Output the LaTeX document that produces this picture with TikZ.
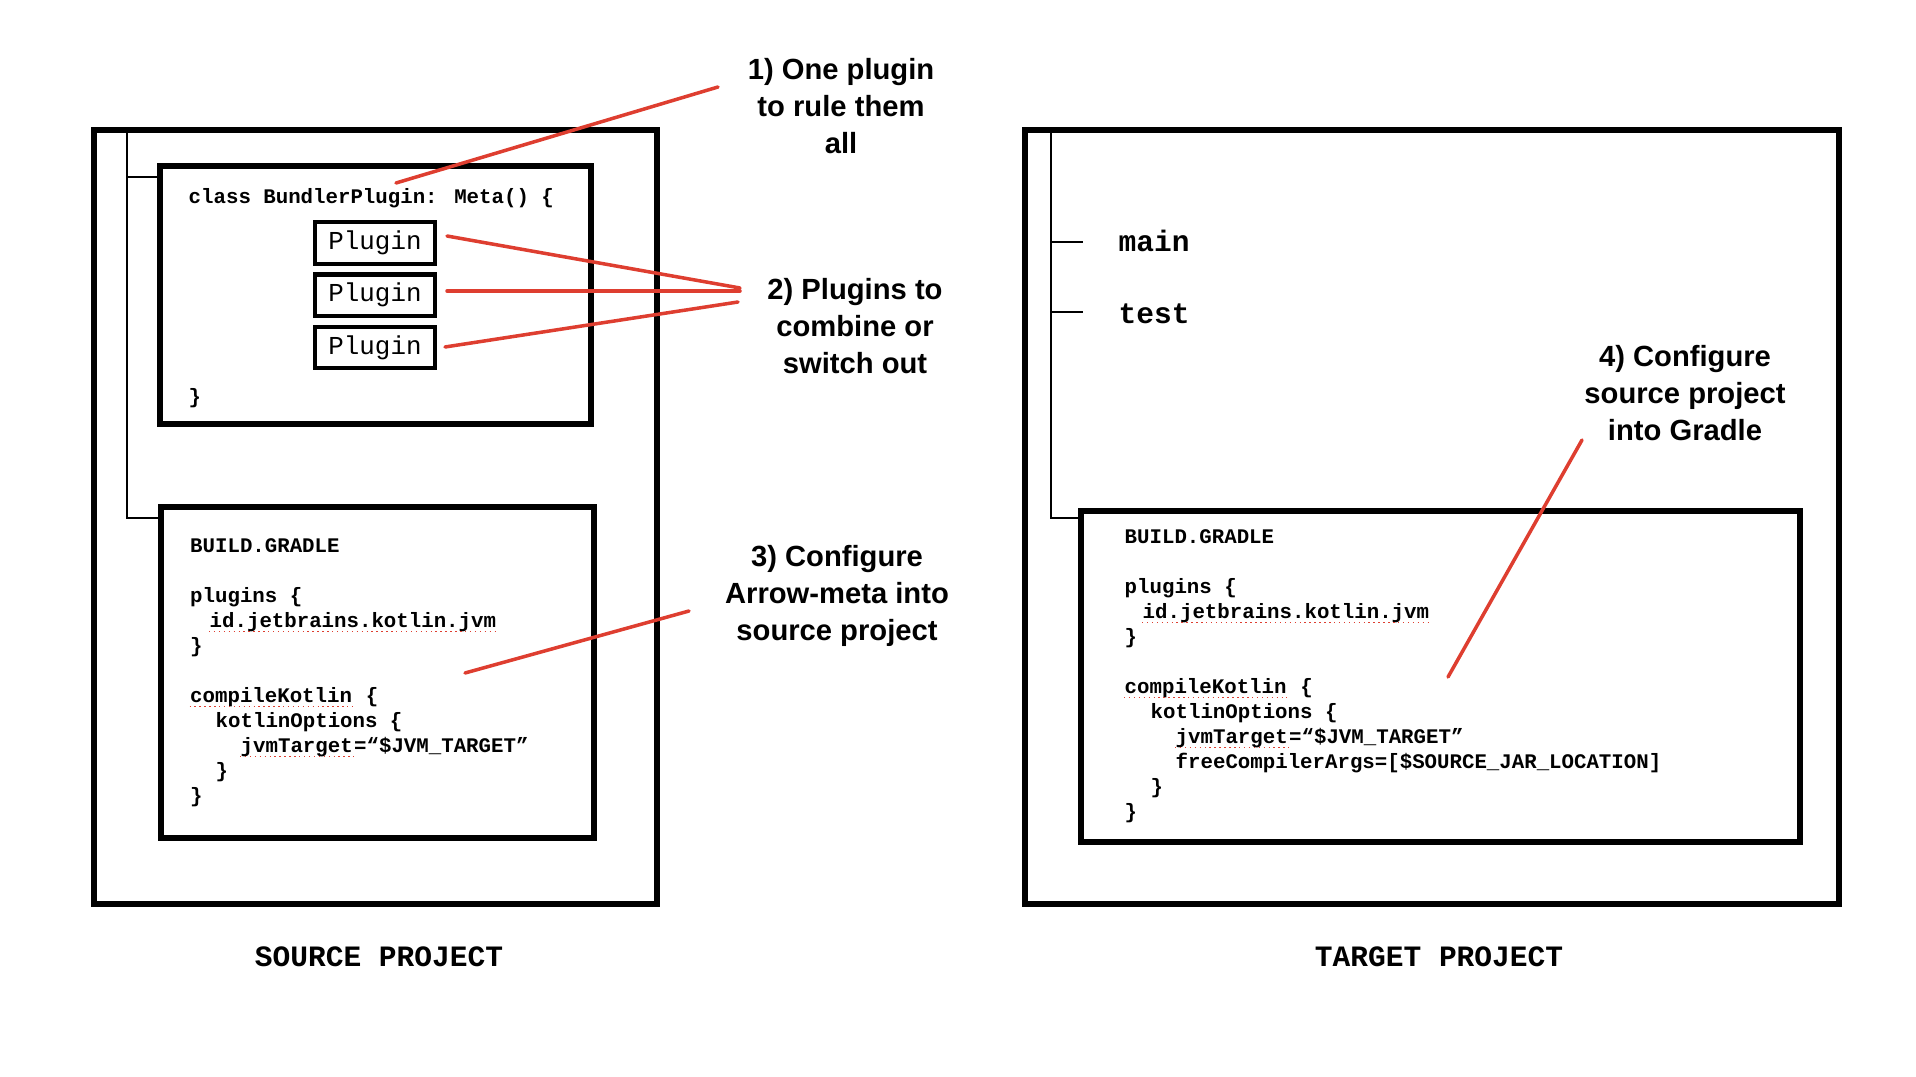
\documentclass[tikz,border=0pt]{standalone}
\usepackage{fontspec}
\setmainfont{Liberation Sans}
\newfontfamily\codefont{Liberation Mono}
\usetikzlibrary{positioning}
\definecolor{scribble}{RGB}{222,62,48}

\begin{document}
\begin{tikzpicture}[x=0.01cm, y=-0.01cm,
  box/.style={line width=1.5pt},
  tree/.style={line width=0.8pt},
  redline/.style={line width=1pt, draw=scribble, line cap=round},
  note/.style={align=center, inner sep=0, font=\bfseries\fontsize{8.3}{10.4}\selectfont},
  code/.style={anchor=base west, inner sep=0, font=\codefont\bfseries\fontsize{5.9}{7.1}\selectfont},
  plugbox/.style={draw, line width=1.2pt, minimum width=1.2cm, minimum height=0.415cm, inner sep=0, font=\codefont\fontsize{7.35}{8}\selectfont},
  spell/.style={append after command={([yshift=-1.3pt]\tikzlastnode.base west) edge[draw=scribble, densely dotted, line width=0.4pt] ([yshift=-1.3pt]\tikzlastnode.base east)}},
  title/.style={anchor=base west, inner sep=0, font=\codefont\bfseries\fontsize{8.4}{10}\selectfont},
]
  \useasboundingbox (0,0) rectangle (1916,1076);

  % Source project
  \draw[box] (94,130) rectangle (657,904);
  \draw[tree] (127,130) -- (127,518) -- (161,518);
  \draw[tree] (127,177) -- (160,177);
  \draw[box] (160,166) rectangle (591,424);
  \node[code] (cls) at (188,203) {class BundlerPlugin: Meta() \{};
  \node[plugbox] (p1) at (375,243) {Plugin};
  \node[plugbox, below=0.065cm of p1] (p2) {Plugin};
  \node[plugbox, below=0.065cm of p2] (p3) {Plugin};
  \node[code] (clsend) at (188,403) {\}};

  % Source build file
  \draw[box] (161,507) rectangle (594,838);
  \node[code] (sg0) at (189.5,552) {BUILD.GRADLE};
  \node[code] (sg1) at (189.5,602) {plugins \{};
  \node[code, spell] (sg2) at (209,627) {id.jetbrains.kotlin.jvm};
  \node[code] (sg3) at (189.5,652) {\}};
  \node[code, spell] (sg4) at (189.5,702) {compileKotlin};
  \node[code] (sg4b) at (sg4.base east) {~\{};
  \node[code] (sg5) at (215,727) {kotlinOptions \{};
  \node[code, spell] (sg6) at (240,752) {jvmTarget};
  \node[code] (sg6b) at (sg6.base east) {=“\$JVM\_TARGET”};
  \node[code] (sg7) at (215,777) {\}};
  \node[code] (sg8) at (189.5,802) {\}};

  \node[title, anchor=base] (src) at (379,966) {SOURCE PROJECT};

  % Target project
  \draw[box] (1025,130) rectangle (1839,904);
  \draw[tree] (1051,130) -- (1051,518) -- (1081,518);
  \draw[tree] (1051,242) -- (1083,242);
  \draw[tree] (1051,312) -- (1083,312);
  \node[title] (main) at (1118,251) {main};
  \node[title] (test) at (1118,323) {test};

  % Target build file
  \draw[box] (1081,511) rectangle (1800,842);
  \node[code] (tg0) at (1124,543) {BUILD.GRADLE};
  \node[code] (tg1) at (1124,593) {plugins \{};
  \node[code, spell] (tg2) at (1142,618) {id.jetbrains.kotlin.jvm};
  \node[code] (tg3) at (1124,643) {\}};
  \node[code, spell] (tg4) at (1124,693) {compileKotlin};
  \node[code] (tg4b) at (tg4.base east) {~\{};
  \node[code] (tg5) at (1150,718) {kotlinOptions \{};
  \node[code, spell] (tg6) at (1175,743) {jvmTarget};
  \node[code] (tg6b) at (tg6.base east) {=“\$JVM\_TARGET”};
  \node[code] (tg7) at (1175,768) {freeCompilerArgs=[\$SOURCE\_JAR\_LOCATION]};
  \node[code] (tg8) at (1150,793) {\}};
  \node[code] (tg9) at (1124,818) {\}};

  \node[title, anchor=base] (tgt) at (1439,966) {TARGET PROJECT};

  % Callouts
  \node[note] (n1) at (841,106) {1) One plugin\\to rule them\\all};
  \node[note] (n2) at (855,326) {2) Plugins to\\combine or\\switch out};
  \node[note] (n3) at (837,596) {3) Configure\\Arrow-meta into\\source project};
  \node[note] (n4) at (1685,393) {4) Configure\\source project\\into Gradle};

  % Red strokes
  \coordinate (r1a) at (396,183);  \coordinate (r1b) at (718,87);
  \coordinate (r2a) at (447,236);  \coordinate (r2b) at (740,288);
  \coordinate (r2c) at (447,291);  \coordinate (r2d) at (740,291);
  \coordinate (r2e) at (445,347);  \coordinate (r2f) at (738,302);
  \coordinate (r3a) at (465,673);  \coordinate (r3b) at (689,611);
  \coordinate (r4a) at (1448,677); \coordinate (r4b) at (1582,440);
  \draw[redline] (r1a) -- (r1b);
  \draw[redline] (r2a) -- (r2b);
  \draw[redline] (r2c) -- (r2d);
  \draw[redline] (r2e) -- (r2f);
  \draw[redline] (r3a) -- (r3b);
  \draw[redline] (r4a) -- (r4b);
\end{tikzpicture}
\end{document}
